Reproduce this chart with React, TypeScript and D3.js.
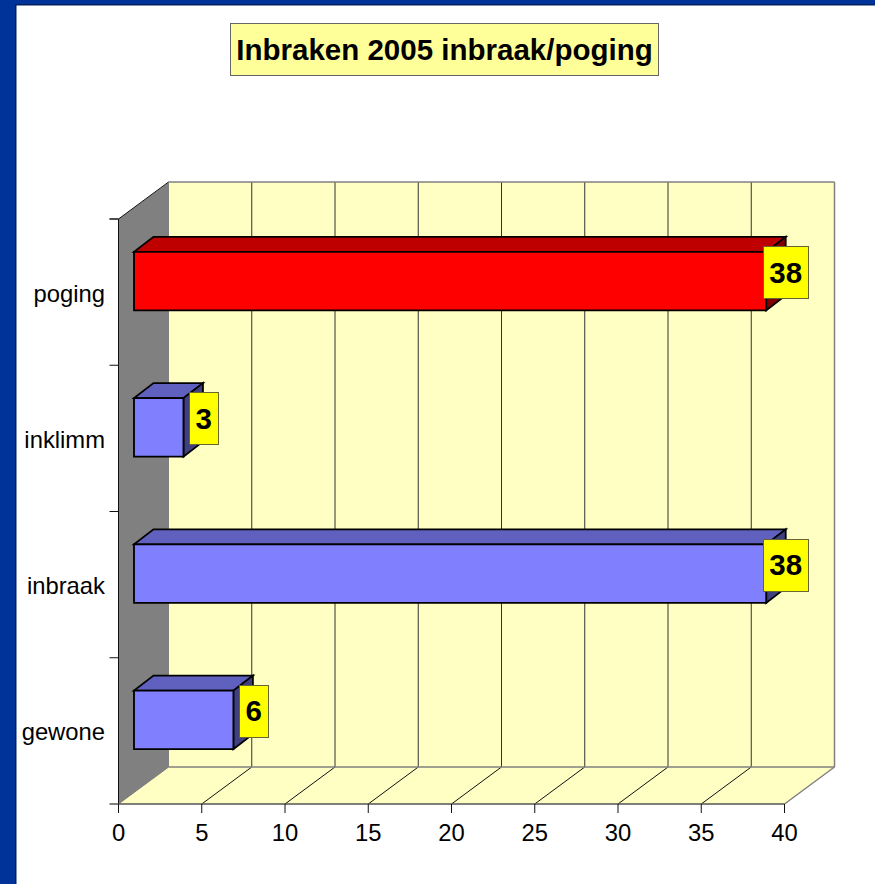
import { useEffect, useRef } from 'react'
import * as d3 from 'd3'

const categories = ['gewone', 'inbraak', 'inklimm', 'poging']
const values = [6, 38, 3, 38]
const barColors = ['#8080ff', '#8080ff', '#8080ff', '#ff0000']
const barTopColors = ['#6060bf', '#6060bf', '#6060bf', '#bf0000']
const barSideColors = ['#404080', '#404080', '#404080', '#800000']
const xTicks = [0, 5, 10, 15, 20, 25, 30, 35, 40]
const title = 'Inbraken 2005 inbraak/poging'

const W = 875
const H = 884
const FONT = '"Liberation Sans", Arial, sans-serif'

export default function App() {
  const svgRef = useRef<SVGSVGElement>(null)

  useEffect(() => {
    const svg = d3.select(svgRef.current)
    svg.selectAll('*').remove()
    svg.attr('width', W).attr('height', H)

    // front plane of the 3D box, the back wall sits up and to the right of it
    const x = d3.scaleLinear().domain([0, 40]).range([118.5, 784.5])
    const y = d3.scaleBand().domain(categories).range([804, 219])
    const depthX = 50
    const depthY = -37
    const left = x(0)
    const right = x(40)
    const top = 219
    const bottom = 804

    const poly = (pts: number[][], fill: string, stroke = 'none', sw = 1) =>
      svg.append('polygon')
        .attr('points', pts.map(p => p.join(',')).join(' '))
        .attr('fill', fill)
        .attr('stroke', stroke)
        .attr('stroke-width', sw)
        .attr('stroke-linejoin', 'miter')

    const line = (x1: number, y1: number, x2: number, y2: number, stroke: string, sw = 1) =>
      svg.append('line')
        .attr('x1', x1).attr('y1', y1).attr('x2', x2).attr('y2', y2)
        .attr('stroke', stroke).attr('stroke-width', sw)

    // page
    svg.append('rect').attr('width', W).attr('height', H).attr('fill', '#003399')
    svg.append('rect').attr('x', 15).attr('y', 4).attr('width', W - 15).attr('height', H - 4).attr('fill', '#00205f')
    svg.append('rect').attr('x', 16.5).attr('y', 5.5).attr('width', W - 16.5).attr('height', H - 5.5).attr('fill', '#ffffff')

    // title
    svg.append('rect')
      .attr('x', 230.5).attr('y', 23.5).attr('width', 428).attr('height', 52)
      .attr('fill', '#ffff99').attr('stroke', '#666666').attr('stroke-width', 1)
    svg.append('text')
      .attr('x', 444.5).attr('y', 60)
      .attr('text-anchor', 'middle')
      .attr('font-family', FONT).attr('font-weight', 700).attr('font-size', 29.5)
      .attr('fill', '#000000')
      .text(title)

    // walls
    poly([[left + depthX + 0.5, top + depthY], [right + depthX, top + depthY], [right + depthX, bottom + depthY], [left + depthX + 0.5, bottom + depthY]], '#ffffc4')
    poly([[left, bottom], [right, bottom], [right + depthX, bottom + depthY], [left + depthX, bottom + depthY]], '#ffffc4')
    poly([[left, top], [left + depthX + 0.5, top + depthY], [left + depthX + 0.5, bottom + depthY], [left, bottom]], '#808080')

    // grid
    xTicks.forEach(t => {
      if (t > 0 && t < 40) {
        line(x(t) + depthX, top + depthY, x(t) + depthX, bottom + depthY, '#333333')
        line(x(t), bottom, x(t) + depthX, bottom + depthY, '#111111')
      }
    })
    line(left + depthX, top + depthY, right + depthX, top + depthY, '#808080', 1.5)
    line(right + depthX, top + depthY, right + depthX, bottom + depthY, '#808080', 1.5)
    line(left + depthX, bottom + depthY, right + depthX, bottom + depthY, '#808080', 1.5)
    line(right, bottom, right + depthX, bottom + depthY, '#808080', 1.5)
    line(left, bottom, left + depthX, bottom + depthY, '#808080', 1)
    line(left, top, left + depthX, top + depthY, '#111111', 1)

    // axes
    line(left, top, left, bottom, '#111111', 1)
    line(left - 9, bottom, right, bottom, '#555555', 1.5)
    categories.forEach((c, i) => {
      const ty = (y(c) as number)
      line(left - 9, ty, left, ty, '#111111')
      if (i === categories.length - 1) line(left - 9, top, left, top, '#111111')
      svg.append('text')
        .attr('x', 105).attr('y', ty + y.bandwidth() / 2 + 9.5)
        .attr('text-anchor', 'end')
        .attr('font-family', FONT).attr('font-size', 23.8).attr('fill', '#000000')
        .text(c)
    })
    xTicks.forEach(t => {
      line(x(t), bottom, x(t), bottom + 9, '#111111')
      svg.append('text')
        .attr('x', x(t)).attr('y', 841)
        .attr('text-anchor', 'middle')
        .attr('font-family', FONT).attr('font-size', 23.8).attr('fill', '#000000')
        .text(t)
    })

    // bars
    const barDX = 19.5
    const barDY = -15
    const barStart = 15.5
    const barH = y.bandwidth() * 0.4
    categories.forEach((c, i) => {
      const x0 = left + barStart
      const x1 = x(values[i]) + barStart - 0.5
      const y0 = (y(c) as number) + y.bandwidth() / 2 - 11 - barH / 2
      const y1 = y0 + barH
      poly([[x0, y0], [x1, y0], [x1 + barDX, y0 + barDY], [x0 + barDX, y0 + barDY]], barTopColors[i], '#000000', 1.8)
      poly([[x1, y0], [x1 + barDX, y0 + barDY], [x1 + barDX, y1 + barDY], [x1, y1]], barSideColors[i], '#000000', 1.8)
      poly([[x0, y0], [x1, y0], [x1, y1], [x0, y1]], barColors[i], '#000000', 1.8)

      // value label
      const label = String(values[i])
      const boxW = label.length > 1 ? 45 : 29
      const cx = x1 + (label.length > 1 ? 19.5 : 20.2)
      const cy = (y0 + y1) / 2 - 9
      svg.append('rect')
        .attr('x', Math.round(cx - boxW / 2) + 0.5).attr('y', Math.round(cy - 26) + 0.5)
        .attr('width', boxW).attr('height', 52)
        .attr('fill', '#ffff00').attr('stroke', '#666633').attr('stroke-width', 1)
      svg.append('text')
        .attr('x', cx).attr('y', cy + 10.5)
        .attr('text-anchor', 'middle')
        .attr('font-family', FONT).attr('font-weight', 700).attr('font-size', 29.5)
        .attr('fill', '#000000')
        .text(label)
    })
  }, [])

  return <svg ref={svgRef} style={{ position: 'absolute', left: 0, top: 0, display: 'block' }} />
}
